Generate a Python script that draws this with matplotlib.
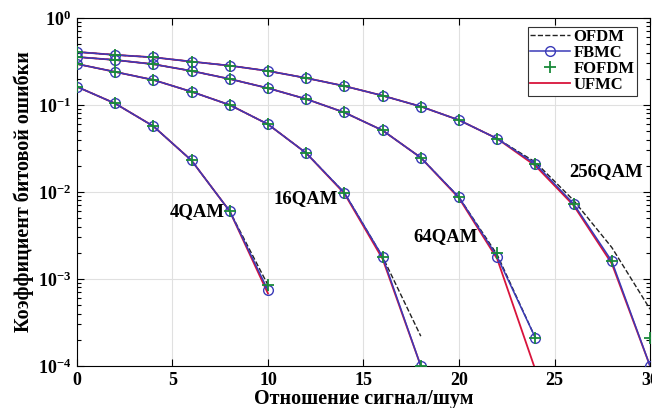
import numpy as np
import matplotlib
matplotlib.use('Agg')
import matplotlib.pyplot as plt
from matplotlib.ticker import LogLocator, NullFormatter

plt.rcParams['font.family'] = ['Liberation Serif', 'DejaVu Serif']
plt.rcParams['font.weight'] = 'bold'
plt.rcParams['mathtext.fontset'] = 'custom'
plt.rcParams['mathtext.rm'] = 'Liberation Serif:bold'
plt.rcParams['mathtext.bf'] = 'Liberation Serif:bold'
plt.rcParams['mathtext.it'] = 'Liberation Serif:bold'

# 4QAM
snr_4 = [0, 2, 4, 6, 8, 10]
ofdm_4 = [0.162, 0.104, 0.057, 0.023, 0.0060, 8.5e-4]
fbmc_4 = [0.162, 0.104, 0.057, 0.023, 0.0060, 7.4e-4]
fofdm_4 = [0.162, 0.104, 0.057, 0.023, 0.0060, 8.5e-4]
ufmc_4 = [0.162, 0.104, 0.057, 0.023, 0.0060, 6.8e-4]

# 16QAM
snr_16 = [0, 2, 4, 6, 8, 10, 12, 14, 16, 18]
ofdm_16 = [0.296, 0.240, 0.194, 0.142, 0.100, 0.060, 0.028, 0.0098, 0.0018, 2.2e-4]
fbmc_16 = [0.296, 0.240, 0.194, 0.142, 0.100, 0.060, 0.028, 0.0098, 0.0018, 1.0e-4]
fofdm_16 = [0.296, 0.240, 0.194, 0.142, 0.100, 0.060, 0.028, 0.0098, 0.0018, 1.0e-4]
ufmc_16 = [0.296, 0.240, 0.194, 0.142, 0.100, 0.060, 0.028, 0.0096, 0.0017, 1.0e-4]

# 64QAM
snr_64 = [0, 2, 4, 6, 8, 10, 12, 14, 16, 18, 20, 22, 24]
ofdm_64 = [0.356, 0.329, 0.294, 0.246, 0.199, 0.156, 0.117, 0.082, 0.051, 0.0248, 0.0087, 0.0019, 2.1e-4]
fbmc_64 = [0.356, 0.329, 0.294, 0.246, 0.199, 0.156, 0.117, 0.082, 0.051, 0.0248, 0.0087, 0.0018, 2.1e-4]
fofdm_64 = [0.356, 0.329, 0.294, 0.246, 0.199, 0.156, 0.117, 0.082, 0.051, 0.0248, 0.0087, 0.0020, 2.1e-4]
ufmc_64 = [0.356, 0.329, 0.294, 0.246, 0.199, 0.156, 0.117, 0.082, 0.051, 0.0248, 0.0085, 0.0017, 9.0e-5]

# 256QAM
snr_256 = [0, 2, 4, 6, 8, 10, 12, 14, 16, 18, 20, 22, 24, 26, 28, 30]
ofdm_256 = [0.407, 0.376, 0.353, 0.315, 0.283, 0.246, 0.204, 0.165, 0.128, 0.096, 0.067, 0.041, 0.022, 0.0080, 0.0023, 4.5e-4]
fbmc_256 = [0.407, 0.376, 0.353, 0.315, 0.283, 0.246, 0.204, 0.165, 0.128, 0.096, 0.067, 0.041, 0.021, 0.0073, 0.0016, 1.0e-4]
fofdm_256 = [0.407, 0.376, 0.353, 0.315, 0.283, 0.246, 0.204, 0.165, 0.128, 0.096, 0.067, 0.041, 0.021, 0.0073, 0.0016, 2.1e-4]
ufmc_256 = [0.407, 0.376, 0.353, 0.315, 0.283, 0.246, 0.204, 0.165, 0.128, 0.096, 0.067, 0.041, 0.020, 0.0070, 0.0015, 1.0e-4]

series = [
    (snr_4, ofdm_4, fbmc_4, fofdm_4, ufmc_4),
    (snr_16, ofdm_16, fbmc_16, fofdm_16, ufmc_16),
    (snr_64, ofdm_64, fbmc_64, fofdm_64, ufmc_64),
    (snr_256, ofdm_256, fbmc_256, fofdm_256, ufmc_256),
]

mod_labels = ['4QAM', '16QAM', '64QAM', '256QAM']
label_pos = [(6.3, 5.9e-3), (12.0, 8.5e-3), (19.3, 3.1e-3), (27.7, 1.7e-2)]

c_blue = '#3a3ab8'
c_red = '#d8143c'
c_green = '#1a8a3a'

fig = plt.figure(figsize=(6.52, 4.08), dpi=100)
ax = fig.add_axes([0.118, 0.103, 0.879, 0.853])

for i, (x, of, fb, fo, uf) in enumerate(series):
    lab = i == 0
    ax.plot(x, of, '--', color='#222222', lw=1.0, zorder=2,
            label='OFDM' if lab else None)
    ax.plot(x, fb, '-', color=c_blue, lw=1.1, marker='o', ms=7, mfc='none',
            mec=c_blue, mew=1.0, zorder=4, label='FBMC' if lab else None)
    ax.plot(x, fo, '+', color=c_green, ms=8, mew=1.3, zorder=5,
            label='FOFDM' if lab else None)
    ax.plot(x, uf, '-', color=c_red, lw=1.3, zorder=3,
            label='UFMC' if lab else None)

for txt, (xp, yp) in zip(mod_labels, label_pos):
    ax.text(xp, yp, txt, fontsize=13.5, fontweight='bold', ha='center',
            va='center', zorder=6)

ax.set_yscale('log')
ax.set_xlim(0, 30)
ax.set_ylim(1e-4, 1)
ax.set_xticks([0, 5, 10, 15, 20, 25, 30])
ax.set_yticks([1e-4, 1e-3, 1e-2, 1e-1, 1])
ax.set_yticklabels([r'$10^{-4}$', r'$10^{-3}$', r'$10^{-2}$', r'$10^{-1}$', r'$10^{0}$'])
ax.yaxis.set_minor_locator(LogLocator(base=10, subs=np.arange(2, 10)))
ax.yaxis.set_minor_formatter(NullFormatter())
ax.tick_params(which='both', direction='in', top=True, right=True,
               labelsize=13, width=0.8)
ax.tick_params(which='major', length=5, pad=4)
ax.tick_params(which='minor', length=3)
ax.grid(True, which='major', color='#e0e0e0', lw=0.8)
ax.set_axisbelow(True)
for s in ax.spines.values():
    s.set_linewidth(0.8)

ax.set_xlabel('Отношение сигнал/шум', fontsize=14.5, fontweight='bold', labelpad=0)
ax.set_ylabel('Коэффициент битовой ошибки', fontsize=14.5, fontweight='bold', labelpad=3)

leg = ax.legend(loc='upper right', bbox_to_anchor=(0.977, 0.975), fontsize=12,
                handlelength=2.4, handletextpad=0.2, borderpad=0.15,
                labelspacing=0.0, fancybox=False, framealpha=1,
                borderaxespad=0, edgecolor='#333333')
leg.get_frame().set_linewidth(0.8)

fig.savefig('out.png', dpi=100)
